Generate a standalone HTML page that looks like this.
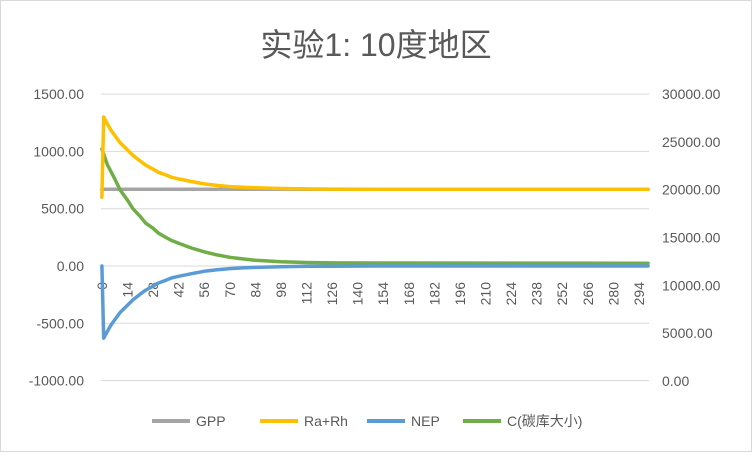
<!DOCTYPE html>
<html><head><meta charset="utf-8"><style>
body{margin:0;background:#fff}
svg text{font-family:"Liberation Sans","Noto Sans CJK SC",sans-serif;fill:#595959}
</style></head><body>
<svg width="752" height="452">
<rect x="0.5" y="0.5" width="751" height="451" fill="#fff" stroke="#d9d9d9"/>
<text x="376" y="56" font-size="32" text-anchor="middle">实验1: 10度地区</text>
<g id="grid"></g><g id="axes"></g><g id="series"></g>
<g id="legend" font-size="14"></g>
</svg>
<script>
const leftTicks=[1500,1000,500,0,-500,-1000];
const rightTicks=[30000,25000,20000,15000,10000,5000,0];
const xTickDays=[0,14,28,42,56,70,84,98,112,126,140,154,168,182,196,210,224,238,252,266,280,294];
const gppDays=[0,299];
const gppVals=[670,670];
const rDays=[0,1,3,5,7,10,14,17,21,24,28,31,35,38,42,49,56,63,70,77,84,98,112,126,150,299];
const rVals=[600,1300,1240,1185,1140,1075,1012,965,915,880,845,818,795,775,760,737,716,703,693,687,682,676,673,671,670,670];
const nepDays=[0,1,3,5,7,10,14,17,21,24,28,31,35,38,42,49,56,63,70,77,84,98,112,126,150,299];
const nepVals=[0,-630,-570,-515,-470,-405,-342,-295,-245,-210,-175,-148,-125,-105,-90,-67,-46,-33,-23,-17,-12,-6,-3,-1.5,0,0];
const cDays=[0,3,7,10,14,17,21,24,28,31,35,38,42,49,56,63,70,77,84,98,112,126,299];
const cVals=[24250,22600,21150,19950,18900,18000,17180,16500,15960,15450,15010,14700,14400,13900,13500,13180,12930,12760,12620,12470,12390,12350,12300];
const NS='http://www.w3.org/2000/svg';
const L=101,R=649,nCat=300,step=(R-L)/nCat;
const xS=d=>L+(d+0.5)*step;
const yL=v=>266-v*57.3/500;
const yR=v=>381-v*287/30000;
function mk(tag,attrs,parent,text){const e=document.createElementNS(NS,tag);for(const k in attrs)e.setAttribute(k,attrs[k]);if(text!==undefined)e.textContent=text;document.getElementById(parent).appendChild(e);return e;}
leftTicks.forEach(v=>{
 const g=mk('line',{x1:L,x2:R,y1:yL(v),y2:yL(v),stroke:'#d9d9d9','stroke-width':1},'grid');
 
 
 const t=mk('text',{x:84,y:yL(v)+5,'font-size':14,'text-anchor':'end'},'axes',v.toFixed(2));
 
 
});
rightTicks.forEach(v=>{
 const t=mk('text',{x:662,y:yR(v)+5,'font-size':14},'axes',v.toFixed(2));
 
 
});
xTickDays.forEach(d=>{
 const x=xS(d);
 const t=mk('text',{x:0,y:0,'font-size':14,'text-anchor':'end',transform:`translate(${x+5},282) rotate(-90)`},'axes',String(d));
 
 
});
function line(days,vals,yf,color,name){
 const pts=days.map((d,i)=>xS(d).toFixed(1)+','+yf(vals[i]).toFixed(1)).join(' ');
 const p=mk('polyline',{points:pts,fill:'none',stroke:color,'stroke-width':3.5,'stroke-linejoin':'round','stroke-linecap':'round'},'series');
 
 
}
line(gppDays,gppVals,yL,'#a5a5a5','gpp-line');
line(cDays,cVals,yR,'#70ad47','c-line');
line(rDays,rVals,yL,'#ffc000','ra-rh-line');
line(nepDays,nepVals,yL,'#5b9bd5','nep-line');
const legend=[['GPP','#a5a5a5',152],['Ra+Rh','#ffc000',260],['NEP','#5b9bd5',367],['C(碳库大小)','#70ad47',463]];
legend.forEach(([lab,c,x])=>{
 const l=mk('line',{x1:x,x2:x+38,y1:421,y2:421,stroke:c,'stroke-width':4},'legend');
 
 
 const t=mk('text',{x:x+44,y:426},'legend',lab);
 
 
});
</script>
</body></html>
